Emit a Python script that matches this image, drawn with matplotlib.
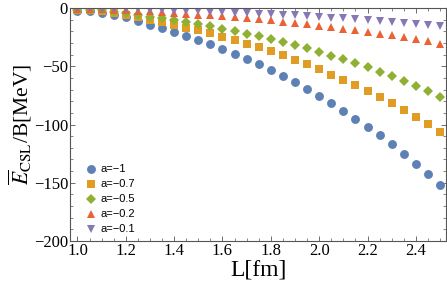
import numpy as np
import matplotlib
matplotlib.use("Agg")
import matplotlib.pyplot as plt
from matplotlib.ticker import MultipleLocator

# L values (fm)
L = [1.0, 1.05, 1.1, 1.15, 1.2, 1.25, 1.3, 1.35, 1.4, 1.45, 1.5,
     1.55, 1.6, 1.65, 1.7, 1.75, 1.8, 1.85, 1.9, 1.95, 2.0,
     2.05, 2.1, 2.15, 2.2, 2.25, 2.3, 2.35, 2.4, 2.45, 2.5]

e_a1 = [-2.3, -2.8, -4.0, -6.0, -8.0, -10.9, -14.4, -17.5, -20.5, -24.0, -27.3,
        -31.0, -35.3, -39.2, -43.5, -48.3, -52.9, -58.0, -63.3, -69.2, -75.3,
        -81.6, -88.0, -94.8, -101.7, -109.2, -117.0, -125.3, -133.9, -142.5, -152.0]
e_a07 = [-1.6, -2.0, -2.8, -4.2, -5.6, -7.6, -10.1, -12.3, -14.4, -16.8, -19.1,
         -21.7, -24.7, -27.4, -30.5, -33.8, -37.0, -40.6, -44.3, -48.4, -52.7,
         -57.1, -61.6, -66.4, -71.2, -76.4, -81.9, -87.7, -93.7, -99.8, -106.4]
e_a05 = [-1.2, -1.4, -2.0, -3.0, -4.0, -5.5, -7.2, -8.8, -10.3, -12.0, -13.7,
         -15.5, -17.7, -19.6, -21.8, -24.2, -26.5, -29.0, -31.7, -34.6, -37.7,
         -40.8, -44.0, -47.4, -50.9, -54.6, -58.5, -62.7, -67.0, -71.3, -76.0]
e_a02 = [-0.5, -0.6, -0.8, -1.2, -1.6, -2.2, -2.9, -3.5, -4.1, -4.8, -5.5,
         -6.2, -7.1, -7.8, -8.7, -9.7, -10.6, -11.6, -12.7, -13.8, -15.1,
         -16.3, -17.6, -19.0, -20.3, -21.8, -23.4, -25.1, -26.8, -28.5, -30.4]
e_a01 = [-0.2, -0.3, -0.4, -0.6, -0.8, -1.1, -1.4, -1.8, -2.1, -2.4, -2.7,
         -3.1, -3.5, -3.9, -4.4, -4.8, -5.3, -5.8, -6.3, -6.9, -7.5,
         -8.2, -8.8, -9.5, -10.2, -10.9, -11.7, -12.5, -13.4, -14.3, -15.2]

labels = ["a=\u22121", "a=\u22120.7", "a=\u22120.5", "a=\u22120.2", "a=\u22120.1"]
series = [e_a1, e_a07, e_a05, e_a02, e_a01]
colors = ["#5E81B5", "#E19C24", "#8FB032", "#EB6235", "#8778B3"]
markers = ["o", "s", "D", "^", "v"]
msizes = [6.4, 5.4, 5.0, 6.2, 6.2]

plt.rcParams['font.family'] = ['Liberation Serif', 'DejaVu Serif']
plt.rcParams['mathtext.fontset'] = 'stix'

fig = plt.figure(figsize=(4.47, 2.90), dpi=100)
ax = fig.add_axes([0.157, 0.169, 0.841, 0.803])

for y, lab, c, m, ms in zip(series, labels, colors, markers, msizes):
    ax.plot(L, y, linestyle='none', marker=m, color=c, markersize=ms,
            markeredgewidth=0, label=lab)

ax.set_xlim(0.97, 2.525)
ax.set_ylim(-200, 0)
ax.xaxis.set_major_locator(MultipleLocator(0.2))
ax.xaxis.set_minor_locator(MultipleLocator(0.05))
ax.yaxis.set_major_locator(MultipleLocator(50))
ax.yaxis.set_minor_locator(MultipleLocator(10))
ax.xaxis.set_major_formatter(matplotlib.ticker.FormatStrFormatter('%.1f'))
ax.tick_params(which='both', direction='in', top=True, right=True,
               colors='#555555', labelcolor='black', labelsize=12, pad=1.5)
ax.tick_params(which='major', length=3.5, width=0.6)
ax.tick_params(which='minor', length=2, width=0.5)
for s in ax.spines.values():
    s.set_color('#555555')
    s.set_linewidth(0.8)

ax.set_xlabel('L[fm]', fontsize=17, labelpad=0)
ax.set_ylabel(r'$\overline{E}_{\mathrm{CSL}}$/B[MeV]', fontsize=15.5, labelpad=0)

leg = ax.legend(loc='lower left', bbox_to_anchor=(0.01, -0.015), frameon=False,
                prop={'family': 'Liberation Sans', 'size': 8},
                handletextpad=0.3, labelspacing=0.45, handlelength=1.2)

fig.savefig('out.png', dpi=100)
